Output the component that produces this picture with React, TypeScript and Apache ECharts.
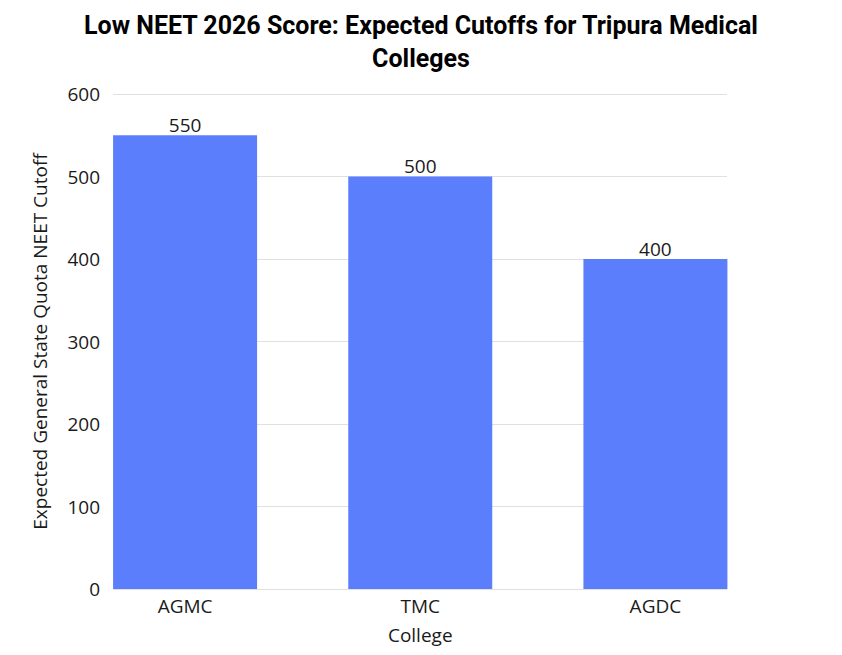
import React, { useEffect, useRef } from "react";
import * as echarts from "echarts";

const colleges = ["AGMC", "TMC", "AGDC"];
const cutoffs = [550, 500, 400];
const titleText = "Low NEET 2026 Score: Expected Cutoffs for Tripura Medical\nColleges";
const yAxisName = "Expected General State Quota NEET Cutoff";
const xAxisName = "College";

export default function App() {
  const ref = useRef<HTMLDivElement>(null);
  useEffect(() => {
    if (!ref.current) return;
    const chart = echarts.init(ref.current, undefined, { renderer: "svg" });
    const font = "Open Sans";
    chart.setOption({
      animation: false,
      backgroundColor: "#ffffff",
      title: {
        text: titleText,
        left: "center",
        top: 4,
        textStyle: {
          fontFamily: "Roboto",
          fontWeight: "bold",
          fontSize: 25,
          lineHeight: 33,
          color: "#000000",
        },
      },
      grid: [
        { left: 67.5, right: 69, top: 94, bottom: 66 },
        { left: 113, right: 115, top: 94, bottom: 66 },
      ],
      xAxis: [
        {
          type: "category",
          gridIndex: 0,
          data: colleges,
          axisLine: { show: false },
          axisTick: { show: false },
          axisLabel: { fontFamily: font, fontSize: 19, color: "#1a1a1a", margin: 7 },
          name: xAxisName,
          nameLocation: "middle",
          nameGap: 36,
          nameTextStyle: { fontFamily: font, fontSize: 19, color: "#1a1a1a" },
        },
        {
          type: "value",
          gridIndex: 1,
          show: false,
        },
      ],
      yAxis: [
        {
          type: "value",
          gridIndex: 0,
          min: 0,
          max: 600,
          interval: 100,
          show: false,
        },
        {
          type: "value",
          gridIndex: 1,
          min: 0,
          max: 600,
          interval: 100,
          axisLine: { show: false },
          axisTick: { show: false },
          splitLine: { show: true, lineStyle: { color: "#e0e0e0", width: 1 } },
          axisLabel: { fontFamily: font, fontSize: 19, color: "#1a1a1a", margin: 13 },
          name: yAxisName,
          nameLocation: "middle",
          nameGap: 64,
          nameTextStyle: { fontFamily: font, fontSize: 19, color: "#1a1a1a" },
        },
      ],
      series: [
        {
          type: "bar",
          xAxisIndex: 0,
          yAxisIndex: 0,
          data: cutoffs,
          barWidth: 144,
          itemStyle: { color: "#5b7ffc" },
          label: {
            show: true,
            position: "top",
            distance: 1,
            fontFamily: font,
            fontSize: 19,
            color: "#1a1a1a",
          },
          z: 3,
        },
      ],
    });
    return () => chart.dispose();
  }, []);
  return (
    <div
      ref={ref}
      style={{ position: "absolute", left: 0, top: 0, width: 842, height: 655 }}
    />
  );
}
